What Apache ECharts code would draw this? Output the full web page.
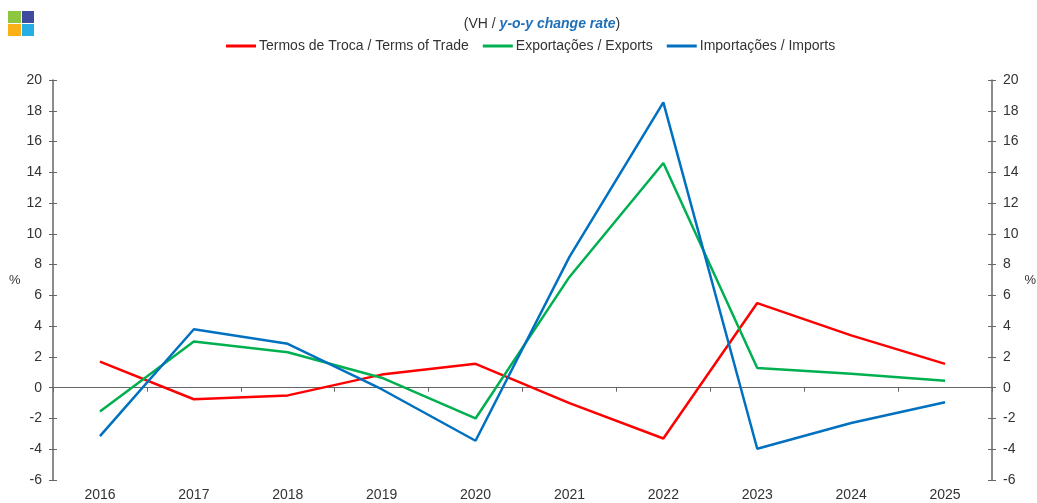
<!DOCTYPE html>
<html>
<head>
<meta charset="utf-8">
<script src="https://cdn.jsdelivr.net/npm/echarts@6/dist/echarts.min.js"></script>
<style>
    html, body {margin: 0; padding: 0; background: #fff;}
    #echartdiv {width: 1037px; height: 503px;}
</style>
</head>
<body>
<div id="echartdiv"></div>
<script>
var pName = ["2016", "2017", "2018", "2019", "2020", "2021", "2022", "2023", "2024", "2025"];
var pLegend = ["Termos de Troca / Terms of Trade", "Exportações / Exports", "Importações / Imports"];
// valores (%)
var pDataTroca = [1.7, -0.75, -0.5, 0.85, 1.55, -1.0, -3.3, 5.5, 3.4, 1.55];
var pDataExp = [-1.55, 3.0, 2.3, 0.65, -2.0, 7.2, 14.6, 1.28, 0.9, 0.45];
var pDataImp = [-3.15, 3.8, 2.85, -0.1, -3.45, 8.5, 18.55, -3.97, -2.3, -0.95];

var axisColor = '#666';
var txtColor = '#333';
var fontName = 'Liberation Sans, Arial, sans-serif';

function yAxisMain(pos, gap) {
    return {
        type: 'value',
        position: pos,
        min: -6,
        max: 20,
        interval: 2,
        name: '%',
        nameLocation: 'middle',
        nameRotate: 0,
        nameGap: gap,
        nameTextStyle: {color: txtColor, fontSize: 13, fontFamily: fontName},
        axisLine: {show: true, lineStyle: {color: axisColor, width: 1.5}},
        axisTick: {show: true, length: 4, lineStyle: {color: axisColor}},
        axisLabel: {color: txtColor, fontSize: 14, fontFamily: fontName, margin: 11},
        splitLine: {show: false}
    };
}

// eixos só para os traços interiores dos ticks
function yAxisInner(pos) {
    return {
        type: 'value',
        position: pos,
        min: -6,
        max: 20,
        interval: 2,
        axisLine: {show: false},
        axisTick: {show: true, inside: true, length: 4, lineStyle: {color: axisColor}},
        axisLabel: {show: false},
        splitLine: {show: false}
    };
}

function lineSerie(name, data, color) {
    return {
        name: name,
        type: 'line',
        data: data,
        xAxisIndex: 0,
        yAxisIndex: 0,
        symbol: 'none',
        smooth: false,
        lineStyle: {color: color, width: 2.5},
        itemStyle: {color: color}
    };
}

var myChart = echarts.init(document.getElementById("echartdiv"));

var option = {
    backgroundColor: '#fff',
    animation: false,
    title: {
        left: 537,
        top: 12,
        textAlign: 'center',
        text: '{a|(VH / }{b|y-o-y change rate}{a|)}',
        textStyle: {
            fontWeight: 'normal',
            rich: {
                a: {color: txtColor, fontSize: 14, fontFamily: fontName, fontWeight: 'normal'},
                b: {color: '#1f6fb8', fontSize: 14, fontFamily: fontName, fontStyle: 'italic', fontWeight: 'bold'}
            }
        }
    },
    legend: {
        left: 221,
        top: 34,
        data: pLegend,
        icon: 'rect',
        itemWidth: 30,
        itemHeight: 3,
        itemGap: 14,
        textStyle: {color: txtColor, fontSize: 14, fontFamily: fontName, padding: [0, 0, 0, -2]}
    },
    graphic: [
        {type: 'rect', shape: {x: 8, y: 11, width: 13, height: 12}, style: {fill: '#8dc63f'}},
        {type: 'rect', shape: {x: 22, y: 11, width: 12, height: 12}, style: {fill: '#3d4a9e'}},
        {type: 'rect', shape: {x: 8, y: 24, width: 13, height: 12}, style: {fill: '#fbb017'}},
        {type: 'rect', shape: {x: 22, y: 24, width: 12, height: 12}, style: {fill: '#26aee4'}}
    ],
    grid: {
        left: 53,
        right: 45,
        top: 80,
        bottom: 23,
        containLabel: false,
        outerBoundsMode: 'none'
    },
    xAxis: [
        {
            type: 'category',
            data: pName,
            position: 'bottom',
            boundaryGap: true,
            axisLine: {show: false, onZero: false},
            axisTick: {show: false},
            axisLabel: {color: txtColor, fontSize: 14, fontFamily: fontName, margin: 8},
            splitLine: {show: false}
        },
        {
            type: 'category',
            data: pName,
            position: 'bottom',
            boundaryGap: true,
            axisLine: {show: true, onZero: true, onZeroAxisIndex: 0, lineStyle: {color: axisColor, width: 1.2}},
            axisTick: {show: true, length: 4, lineStyle: {color: axisColor}},
            axisLabel: {show: false},
            splitLine: {show: false}
        }
    ],
    yAxis: [
        yAxisMain('left', 30),
        yAxisMain('right', 32),
        yAxisInner('left'),
        yAxisInner('right')
    ],
    series: [
        lineSerie(pLegend[0], pDataTroca, '#ff0000'),
        lineSerie(pLegend[1], pDataExp, '#00b050'),
        lineSerie(pLegend[2], pDataImp, '#0070c0')
    ]
};

myChart.setOption(option);
</script>
</body>
</html>
